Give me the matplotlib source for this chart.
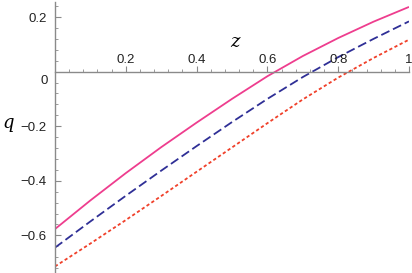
import numpy as np
import matplotlib
matplotlib.use('Agg')
import matplotlib.pyplot as plt
from matplotlib.ticker import MultipleLocator, FixedLocator

# values at z = 0, 0.1, ..., 1
z = [0.0, 0.1, 0.2, 0.3, 0.4, 0.5, 0.6, 0.7, 0.8, 0.9, 1.0]
q_pink = [-0.577, -0.472, -0.372, -0.277, -0.187, -0.100, -0.017, 0.057, 0.123, 0.183, 0.237]
q_blue = [-0.645, -0.549, -0.455, -0.363, -0.273, -0.185, -0.100, -0.020, 0.053, 0.120, 0.184]
q_red = [-0.714, -0.630, -0.544, -0.456, -0.367, -0.278, -0.189, -0.102, -0.022, 0.050, 0.117]

x_ticks = [0.2, 0.4, 0.6, 0.8, 1.0]
x_tick_labels = ['0.2', '0.4', '0.6', '0.8', '1']
y_ticks = [-0.6, -0.4, -0.2, 0.2]
y_tick_labels = ['\u22120.6', '\u22120.4', '\u22120.2', '0.2']

plt.rcParams['font.family'] = ['Liberation Sans', 'DejaVu Sans']

fig = plt.figure(figsize=(4.12, 2.73), dpi=100)
ax = fig.add_axes([55 / 412, 0.0, 354 / 412, 271 / 273])
ax.set_xlim(0, 1.0)
ax.set_ylim(-0.738, 0.255)

ax.plot(z, q_pink, color='#EE3D8E', lw=1.3, solid_capstyle='butt')
ax.plot(z, q_blue, color='#2F2F96', lw=1.3, dashes=(5, 2.2))
ax.plot(z, q_red, color='#F0402A', lw=1.3, dashes=(1.8, 1.4))

# axes crossing at the origin, maple style
axis_col = '#8a8a8a'
for side in ['top', 'right']:
    ax.spines[side].set_visible(False)
ax.spines['left'].set_position(('data', 0))
ax.spines['bottom'].set_position(('data', 0))
ax.spines['left'].set_color(axis_col)
ax.spines['bottom'].set_color(axis_col)
ax.spines['left'].set_linewidth(1.0)
ax.spines['bottom'].set_linewidth(1.0)

ax.xaxis.set_major_locator(FixedLocator(x_ticks))
ax.set_xticklabels(x_tick_labels)
ax.xaxis.set_minor_locator(MultipleLocator(0.04))
ax.yaxis.set_major_locator(FixedLocator(y_ticks))
ax.set_yticklabels(y_tick_labels)
ax.yaxis.set_minor_locator(MultipleLocator(0.04))

lab_size = 9.5
ax.tick_params(axis='x', which='both', direction='in', color=axis_col, labelsize=lab_size,
               labelcolor='#222222', pad=2, labelbottom=False, labeltop=False)
ax.tick_params(axis='x', which='major', length=4, width=0.8)
ax.tick_params(axis='x', which='minor', length=2.5, width=0.6)
ax.tick_params(axis='y', which='both', direction='in', color=axis_col, labelsize=lab_size,
               labelcolor='#222222', pad=6)
ax.tick_params(axis='y', which='major', length=4, width=0.8)
ax.tick_params(axis='y', which='minor', length=2.5, width=0.6)

# x tick labels sit above the horizontal axis
for xt, lab in zip(x_ticks, x_tick_labels):
    ax.text(xt, 0.02, lab, ha='center', va='bottom', fontsize=lab_size, color='#222222',
            clip_on=False)
ax.text(-0.02, -0.012, '0', ha='right', va='top', fontsize=lab_size, color='#222222')

ax.text(0.508, 0.075, 'z', fontsize=13, style='italic', family='DejaVu Serif',
        ha='center', va='bottom')
ax.text(-0.148, -0.19, 'q', fontsize=13, style='italic', family='DejaVu Serif',
        ha='left', va='center')

fig.savefig('out.png', dpi=100)
